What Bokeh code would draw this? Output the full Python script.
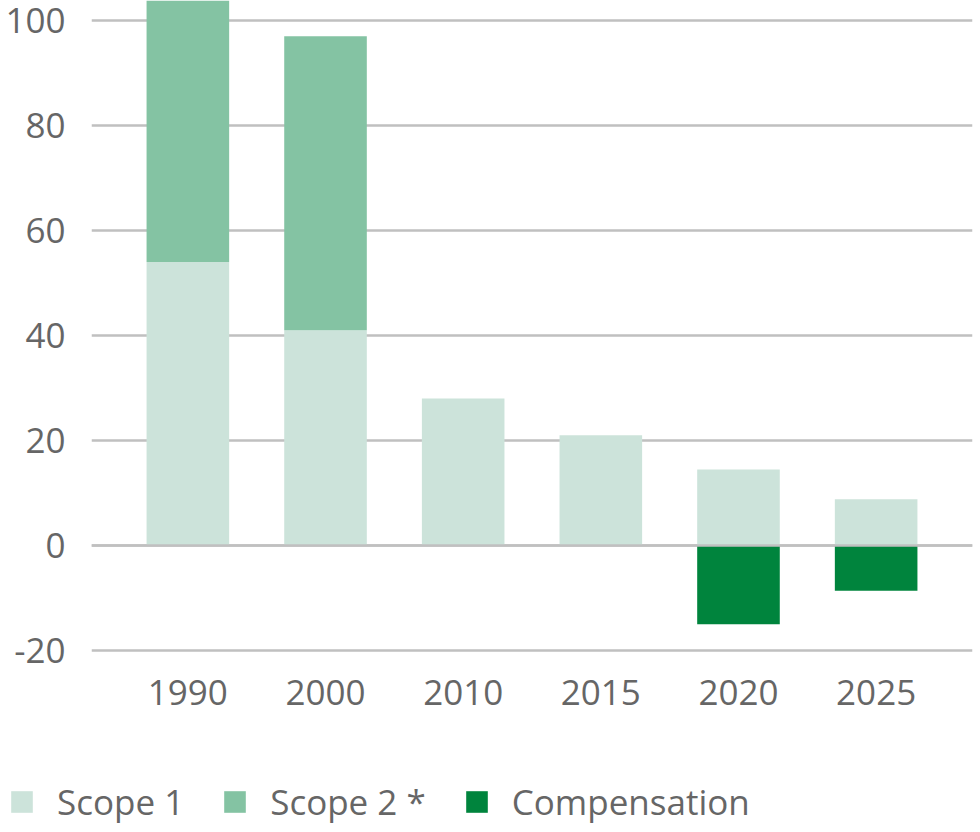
from bokeh.plotting import figure
from bokeh.layouts import column
from bokeh.models import FactorRange, Range1d, FixedTicker, Legend, LegendItem, Span, ColumnDataSource
from bokeh.embed import file_html
from bokeh.resources import INLINE

years = ["1990", "2000", "2010", "2015", "2020", "2025"]
scope1 = [54, 41, 28, 21, 14.5, 8.8]
scope2 = [52, 56, 0, 0, 0, 0]
compensation = [0, 0, 0, 0, -15, -8.6]
y_ticks = [-20, 0, 20, 40, 60, 80, 100]
series_names = ["Scope 1", "Scope 2 *", "Compensation"]
series_cols = ["scope1", "scope2", "compensation"]

c_scope1 = "#cce3da"
c_scope2 = "#84c3a3"
c_comp = "#00843d"
colors = [c_scope1, c_scope2, c_comp]
text_c = "#666666"
grid_c = "#c0c0c0"
font = "Open Sans"

src = ColumnDataSource(dict(years=years, scope1=scope1, scope2=scope2, compensation=compensation))

p = figure(width=980, height=740, output_backend="svg", toolbar_location=None,
           x_range=FactorRange(factors=years, range_padding=0.2, range_padding_units="absolute"),
           y_range=Range1d(-21.9, 103.8),
           min_border_left=91, min_border_right=8, min_border_top=0, min_border_bottom=80)
p.outline_line_color = None
p.frame_align = False

r = p.vbar_stack(["scope1", "scope2"], x="years", width=0.6, source=src,
                 color=[c_scope1, c_scope2], line_color=None)
rc = p.vbar(x="years", top="compensation", bottom=0, width=0.6, source=src,
            color=c_comp, line_color=None)

p.add_layout(Span(location=0, dimension="width", line_color=grid_c, line_width=2.5, level="overlay"))

p.xgrid.grid_line_color = None
p.ygrid.grid_line_color = grid_c
p.ygrid.grid_line_width = 2.5
p.ygrid.ticker = FixedTicker(ticks=y_ticks)

p.yaxis.ticker = FixedTicker(ticks=y_ticks)
p.yaxis.major_label_overrides = {t: str(t) for t in y_ticks}
for ax in (p.xaxis[0], p.yaxis[0]):
    ax.axis_line_color = None
    ax.major_tick_line_color = None
    ax.minor_tick_line_color = None
    ax.major_tick_out = 0
    ax.major_tick_in = 0
    ax.major_label_text_font = font
    ax.major_label_text_font_size = "35px"
    ax.major_label_text_color = text_c
p.yaxis.major_label_standoff = 26
p.xaxis.major_label_standoff = 19

# legend strip below the chart
lg = figure(width=980, height=92, output_backend="svg", toolbar_location=None,
            x_range=FactorRange(factors=years), y_range=Range1d(1000, 1001),
            x_axis_type=None, y_axis_type=None,
            min_border_left=0, min_border_right=0, min_border_top=0, min_border_bottom=0)
lg.frame_align = False
lg.grid.visible = False
lg.outline_line_color = None
items = []
for name, colname, col in zip(series_names, series_cols, colors):
    rr = lg.vbar(x="years", top=colname, width=0.6, source=src, color=col, line_color=None)
    rr.visible = False
    items.append(LegendItem(label=name, renderers=[rr]))
legend = Legend(items=items, orientation="horizontal", location=(8, 7),
                glyph_width=27, glyph_height=27, label_standoff=22, spacing=37,
                padding=0, margin=0, border_line_color=None, background_fill_alpha=0,
                inactive_fill_alpha=0,
                label_text_font=font, label_text_font_size="35px", label_text_color=text_c,
                label_height=27)
lg.add_layout(legend, "center")

layout = column(p, lg, spacing=0, margin=(0, 0, 0, 0))
open("out.html", "w").write(file_html(layout, INLINE))
